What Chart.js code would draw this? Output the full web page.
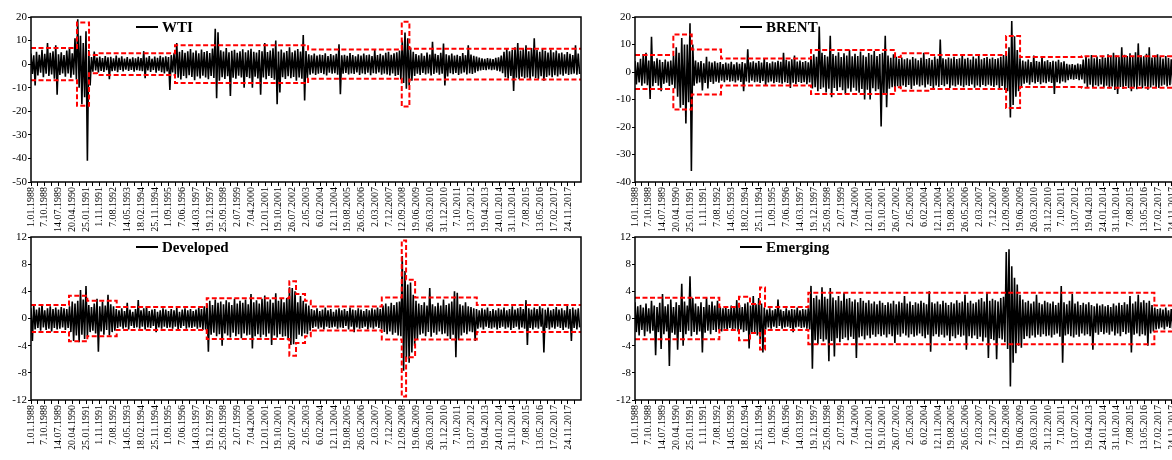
<!DOCTYPE html>
<html><head><meta charset="utf-8">
<script src="https://cdn.jsdelivr.net/npm/chart.js@4.4.1/dist/chart.umd.min.js"></script>
<style>
html,body{margin:0;padding:0;background:#fff;overflow:hidden;width:1172px;height:460px;}
.box{position:absolute;width:590px;height:240px;}
canvas{display:block;}
</style></head><body>
<div class="box" style="left:0;top:0"><canvas id="c1" width="590" height="240"></canvas></div>
<div class="box" style="left:604px;top:0"><canvas id="c2" width="590" height="240"></canvas></div>
<div class="box" style="left:0;top:220px"><canvas id="c3" width="590" height="240"></canvas></div>
<div class="box" style="left:604px;top:220px"><canvas id="c4" width="590" height="240"></canvas></div>
<script>
const dateLabels = ["1.01.1988","7.10.1988","14.07.1989","20.04.1990","25.01.1991","1.11.1991","7.08.1992","14.05.1993","18.02.1994","25.11.1994","1.09.1995","7.06.1996","14.03.1997","19.12.1997","25.09.1998","2.07.1999","7.04.2000","12.01.2001","19.10.2001","26.07.2002","2.05.2003","6.02.2004","12.11.2004","19.08.2005","26.05.2006","2.03.2007","7.12.2007","12.09.2008","19.06.2009","26.03.2010","31.12.2010","7.10.2011","13.07.2012","19.04.2013","24.01.2014","31.10.2014","7.08.2015","13.05.2016","17.02.2017","24.11.2017"];
const lastIndex = 7990;

const wtiTicks = [20,10,0,-10,-20,-30,-40,-50];
const brentTicks = [20,10,0,-10,-20,-30,-40];
const indexTicks = [12,8,4,0,-4,-8,-12];

const wtiHi = [4.5,3.8,5.2,4.0,6.1,4.4,9.0,4.8,5.5,8.0,
4.2,5.0,3.9,5.8,7.0,4.6,11.0,19.0,12.0,9.0,
14.0,6.0,3.0,5.3,2.8,3.2,2.6,3.4,2.9,3.1,
2.5,3.6,2.7,3.3,2.4,3.0,2.2,2.9,2.5,3.1,
2.6,5.5,2.8,3.4,2.3,3.2,2.7,3.5,2.9,3.3,
3.0,3.8,4.6,9.0,5.2,6.0,4.8,5.5,6.4,4.9,
5.8,4.6,6.2,5.1,5.6,4.7,6.6,15.0,13.5,5.9,
5.3,6.8,5.0,5.7,6.1,4.8,5.4,6.3,5.0,5.9,
6.5,5.2,4.9,6.0,5.5,9.0,5.1,5.8,6.7,10.0,
5.4,6.2,4.9,5.6,7.2,5.0,5.8,6.4,5.3,12.4,
5.6,4.2,3.8,4.5,3.6,4.1,3.9,4.6,3.4,4.3,
3.7,4.4,8.4,3.8,4.0,3.5,4.7,3.9,3.3,4.2,
3.6,4.5,3.8,4.1,3.4,6.0,3.9,4.4,3.7,4.8,
5.2,4.0,4.6,5.0,5.8,10.0,13.4,11.0,7.0,5.2,
4.3,3.8,4.6,3.5,4.9,4.1,9.5,4.4,3.9,4.8,
8.7,4.2,3.7,4.5,3.6,4.0,3.4,4.7,3.8,8.0,
4.1,3.5,3.2,2.8,2.5,2.2,2.6,2.4,2.1,2.7,
2.9,3.6,5.2,6.5,5.4,6.0,7.2,9.0,5.8,6.6,
8.0,5.5,6.8,11.0,6.0,5.2,6.5,5.7,4.9,6.2,
5.0,5.8,4.6,4.9,4.2,5.1,4.4,3.9,8.0,4.5];
const wtiLo = [-4.2,-9.0,-4.8,-3.6,-5.5,-4.1,-5.0,-4.4,-6.2,-13.0,
-4.6,-3.9,-5.3,-4.0,-5.8,-4.5,-6.5,-10.0,-17.0,-14.0,
-41.0,-9.0,-3.2,-2.7,-3.5,-2.9,-3.3,-2.6,-6.4,-3.0,
-2.8,-3.4,-2.5,-3.1,-2.3,-2.9,-2.4,-3.2,-2.6,-2.8,
-3.0,-6.0,-2.7,-3.3,-2.5,-3.6,-2.8,-3.4,-3.9,-3.1,
-11.0,-3.5,-4.4,-5.8,-6.5,-5.0,-6.0,-4.7,-5.4,-6.8,
-5.2,-6.1,-4.9,-5.7,-6.4,-5.0,-5.9,-14.5,-7.0,-5.5,
-6.3,-5.1,-13.5,-5.8,-6.2,-4.9,-5.6,-10.0,-5.4,-6.0,
-10.0,-5.3,-6.1,-13.0,-5.7,-6.4,-5.0,-5.9,-6.6,-17.0,
-12.0,-5.5,-6.3,-5.1,-6.0,-5.4,-7.0,-5.7,-6.2,-15.4,
-6.0,-4.5,-3.9,-4.6,-4.0,-3.7,-4.3,-4.8,-3.6,-4.1,
-3.8,-4.5,-12.8,-4.0,-3.7,-4.4,-3.9,-4.2,-3.5,-4.6,
-3.9,-4.3,-3.6,-4.7,-3.8,-4.1,-3.5,-4.5,-4.0,-4.4,
-4.8,-3.9,-5.0,-4.6,-6.5,-8.0,-10.4,-9.0,-7.0,-5.0,
-4.0,-4.6,-3.7,-4.4,-3.9,-4.8,-4.2,-3.6,-4.5,-4.1,
-9.0,-5.2,-3.8,-4.3,-3.7,-4.6,-4.0,-3.5,-4.4,-3.9,
-4.2,-3.6,-3.0,-2.7,-2.4,-2.6,-2.2,-2.5,-2.3,-2.8,
-3.1,-3.8,-5.5,-6.2,-5.0,-11.4,-5.8,-6.4,-5.3,-6.0,
-5.6,-6.5,-5.2,-5.9,-6.3,-5.1,-7.0,-5.4,-4.8,-5.5,
-4.7,-5.2,-4.4,-4.9,-4.1,-4.6,-4.3,-4.0,-4.5,-4.2];
const wtiBandStart = [0,668,843,959,2092,4025,5386,5497];
const wtiBandLevel = [6.8,17.7,3.9,4.6,8.0,6.2,18.0,6.5];

const brentHi = [4.0,3.5,4.8,6.5,7.0,4.2,12.8,3.9,5.0,4.4,
3.6,4.5,3.8,4.2,6.0,9.0,7.0,12.4,10.0,10.0,
17.7,10.0,4.2,3.5,4.0,3.2,5.5,3.8,3.4,3.9,
3.3,3.6,2.9,3.4,3.1,3.7,2.8,3.5,3.0,3.6,
3.2,8.3,3.5,3.9,3.3,4.0,3.4,5.0,3.6,3.2,
3.8,3.5,4.1,3.7,7.0,4.4,3.9,4.6,6.0,3.8,
4.2,3.6,4.0,3.5,5.8,6.4,5.5,16.5,7.0,6.2,
5.6,13.2,6.5,5.9,7.2,5.4,6.8,6.0,8.0,5.7,
6.6,5.8,7.4,6.1,5.5,6.9,6.3,7.6,5.8,6.5,
7.0,13.2,6.0,5.2,6.4,5.5,4.8,5.3,4.6,5.0,
4.5,5.4,4.9,4.3,5.2,7.0,4.7,5.1,4.4,5.6,
4.8,11.8,5.0,4.6,5.3,4.9,5.5,4.7,5.0,6.5,
4.8,5.2,4.5,5.6,4.9,6.0,4.6,5.1,5.4,4.8,
5.3,4.7,5.0,5.5,6.2,7.0,9.0,18.5,13.0,8.0,
5.0,4.2,3.8,4.5,3.6,6.0,4.0,3.7,5.5,3.9,
4.3,3.6,4.1,3.8,4.4,3.5,3.9,3.0,2.7,2.9,
2.6,3.1,2.8,4.5,5.8,4.9,6.2,5.0,5.6,4.7,
5.9,5.2,6.4,5.5,7.0,6.0,5.4,9.0,6.3,5.8,
6.8,5.6,7.2,10.4,6.1,5.7,6.6,9.0,5.3,6.0,
6.4,5.5,4.9,5.8,5.1,4.6,5.4,4.9,5.6,5.0];
const brentLo = [-4.5,-3.8,-5.0,-4.2,-4.8,-9.8,-5.2,-4.0,-5.0,-7.0,
-4.3,-3.9,-5.1,-4.6,-6.0,-9.0,-13.0,-12.0,-18.7,-11.0,
-36.0,-5.0,-4.2,-3.8,-6.7,-4.0,-6.0,-3.6,-4.3,-3.5,
-3.9,-3.2,-3.7,-3.0,-3.5,-3.3,-3.8,-3.1,-3.6,-7.0,
-3.4,-3.9,-3.2,-3.7,-3.5,-4.0,-3.3,-5.0,-3.8,-3.4,
-4.1,-3.6,-3.9,-4.3,-3.7,-4.0,-5.8,-3.9,-4.4,-3.6,
-4.0,-3.7,-4.4,-3.8,-6.0,-5.5,-7.0,-6.2,-5.6,-7.4,
-6.1,-9.2,-5.8,-6.9,-5.5,-6.6,-8.0,-6.0,-7.2,-5.7,
-6.8,-7.5,-6.2,-10.0,-6.4,-10.0,-5.9,-7.0,-6.3,-19.8,
-7.6,-12.8,-6.1,-5.5,-6.6,-5.2,-5.8,-4.9,-5.4,-4.7,
-6.2,-5.0,-4.6,-5.3,-4.8,-5.6,-4.5,-5.1,-6.0,-4.9,
-5.4,-4.7,-5.2,-4.4,-5.8,-4.9,-5.3,-4.6,-5.0,-5.5,
-4.8,-5.1,-4.5,-5.7,-4.9,-5.5,-4.7,-5.2,-4.6,-5.0,
-5.4,-4.8,-6.0,-5.1,-6.5,-7.0,-16.5,-12.0,-9.0,-7.0,
-5.2,-4.3,-3.9,-4.6,-3.7,-4.2,-3.6,-4.4,-3.8,-4.1,
-3.5,-4.0,-8.0,-3.7,-4.2,-3.4,-3.8,-3.0,-2.6,-2.8,
-2.5,-3.0,-2.7,-4.2,-5.5,-4.6,-5.8,-4.8,-5.2,-4.5,
-5.6,-5.0,-6.0,-5.3,-6.5,-8.0,-5.4,-6.2,-5.1,-5.8,
-7.0,-5.5,-6.3,-5.0,-5.9,-5.2,-6.4,-5.6,-4.9,-5.5,
-5.8,-5.0,-4.6,-5.3,-4.8,-4.4,-5.1,-4.6,-5.0,-4.7];
const brentBandStart = [0,557,824,1250,2557,3778,3861,4286,5391,5594,6491];
const brentBandLevel = [6.2,13.65,8.15,4.95,8.0,5.5,6.8,6.2,13.05,5.45,5.75];

const devHi = [1.5,2.0,1.3,1.6,2.1,1.2,1.5,1.8,1.4,1.6,
1.3,1.7,1.5,1.4,1.8,2.5,2.2,2.6,4.2,2.8,
4.8,2.0,1.7,2.2,2.9,1.8,2.5,1.9,3.5,2.1,
1.8,1.4,1.2,1.5,1.1,2.3,1.3,1.0,1.4,2.7,
1.2,1.5,1.8,1.1,1.3,1.4,1.0,1.2,1.5,1.3,
1.1,1.4,1.2,1.6,1.0,1.3,1.5,1.2,1.4,1.1,
1.3,1.6,1.4,1.8,2.2,2.6,2.0,2.8,2.3,2.5,
2.1,2.7,2.4,2.0,2.9,2.2,2.6,2.3,2.8,2.1,
3.6,2.4,2.7,2.2,2.9,3.4,2.5,2.8,2.3,3.7,
2.6,2.9,2.4,3.0,4.6,4.5,4.0,2.4,3.3,2.6,
2.2,1.9,1.4,1.2,1.5,1.1,1.3,1.6,1.2,1.4,
1.0,1.3,1.5,1.2,1.4,1.1,1.6,1.3,1.2,1.5,
1.3,1.1,1.4,1.2,1.5,1.3,1.6,1.4,1.9,2.2,
1.8,2.3,2.0,2.4,2.5,9.2,7.0,5.0,5.3,3.5,
2.6,2.2,2.0,2.4,1.9,4.5,2.1,1.8,2.3,1.9,
2.8,2.0,2.2,2.5,4.0,3.8,2.1,1.9,2.4,1.8,
1.7,1.5,1.4,1.2,1.5,1.3,1.6,1.1,1.4,1.2,
1.5,1.3,1.6,1.2,1.4,1.8,1.3,1.5,1.7,1.4,
2.7,1.5,1.3,1.6,1.4,1.8,1.5,1.3,1.6,1.2,
1.4,1.7,1.3,1.5,1.2,1.9,1.4,1.6,1.3,1.5];
const devLo = [-3.3,-1.6,-1.4,-1.8,-1.3,-1.7,-1.5,-1.9,-1.4,-1.6,
-1.5,-1.3,-1.7,-1.4,-2.0,-3.3,-2.5,-3.5,-2.4,-3.0,
-2.6,-2.0,-1.8,-2.2,-4.9,-1.9,-2.4,-1.7,-2.5,-2.0,
-1.8,-1.4,-1.2,-1.5,-1.3,-1.6,-1.1,-1.4,-1.3,-1.5,
-1.2,-1.6,-1.3,-1.4,-1.1,-2.0,-1.3,-1.5,-1.2,-1.4,
-1.3,-1.5,-1.2,-1.6,-1.4,-1.1,-1.5,-1.3,-1.4,-1.2,
-1.5,-1.3,-1.7,-1.6,-4.9,-2.4,-2.1,-2.6,-2.3,-4.0,
-2.2,-2.5,-2.8,-2.1,-2.6,-2.3,-2.9,-2.2,-2.5,-2.4,
-4.4,-2.6,-2.3,-2.8,-2.4,-2.7,-2.2,-3.9,-2.5,-2.8,
-2.3,-2.7,-2.6,-3.2,-3.9,-3.8,-3.0,-2.4,-2.6,-2.2,
-2.3,-1.8,-1.4,-1.2,-1.5,-1.3,-1.6,-1.2,-1.4,-1.3,
-1.2,-1.5,-1.3,-1.4,-1.1,-1.6,-1.2,-2.0,-1.3,-1.5,
-1.4,-1.2,-1.6,-1.3,-1.5,-1.2,-1.4,-1.6,-2.0,-2.3,
-1.9,-2.4,-2.1,-2.5,-2.6,-7.7,-6.0,-6.5,-5.0,-4.0,
-3.0,-2.4,-2.2,-2.6,-2.0,-2.7,-2.1,-2.4,-1.9,-2.3,
-2.2,-2.6,-3.0,-2.4,-5.7,-3.2,-2.5,-2.1,-2.3,-1.9,
-2.0,-3.3,-1.5,-1.3,-1.6,-1.2,-1.4,-1.5,-1.3,-1.6,
-1.4,-1.2,-1.5,-1.3,-1.7,-1.4,-1.2,-1.6,-1.3,-1.5,
-3.9,-1.4,-1.6,-1.3,-1.5,-1.2,-5.0,-1.4,-1.6,-1.3,
-1.5,-1.2,-1.4,-1.7,-1.3,-1.5,-3.3,-1.4,-1.6,-1.3];
const devBandStart = [0,552,818,1245,2553,3753,3850,3981,4064,5096,5386,5449,5580,6476];
const devBandLevel = [2.0,3.35,2.6,1.7,3.0,5.5,3.6,2.6,1.75,3.1,11.5,5.7,3.1,2.0];

const emHi = [2.4,1.8,2.0,1.6,2.2,1.5,2.6,1.9,1.7,2.3,
3.6,1.8,2.1,2.8,1.7,2.4,2.0,5.1,2.5,1.9,
6.2,3.0,2.2,1.8,2.4,1.7,3.0,2.0,2.5,1.9,
2.6,1.7,1.5,1.8,1.4,1.9,1.6,2.7,2.0,1.7,
2.2,2.4,1.9,3.3,2.1,3.0,2.2,1.6,1.3,1.5,
1.2,1.4,2.8,1.3,1.1,1.5,1.2,1.4,1.3,1.6,
1.2,1.4,1.3,1.5,4.8,3.0,3.4,2.8,4.6,3.2,
2.9,4.5,3.1,2.7,3.3,2.6,3.8,2.9,3.0,2.5,
2.8,2.4,3.0,2.6,2.3,2.7,2.2,2.5,2.1,2.6,
2.3,2.0,2.4,2.2,2.6,2.1,2.5,2.3,3.3,2.2,
2.5,2.0,2.4,2.2,2.6,2.3,2.1,4.0,2.4,2.2,
2.5,2.1,2.6,2.3,2.0,2.4,2.2,2.7,2.3,2.5,
3.5,2.3,2.6,2.2,2.4,2.8,3.0,2.5,3.8,2.6,
2.9,2.7,2.5,3.0,3.2,9.8,10.2,7.7,6.0,5.0,
3.5,2.8,2.4,2.6,2.2,2.5,3.5,2.3,2.1,2.6,
2.4,2.2,2.5,2.0,2.3,4.8,2.4,2.1,2.6,3.6,
2.2,2.5,2.0,2.3,2.1,2.4,2.0,1.8,2.2,1.9,
2.1,1.8,2.0,1.7,2.2,1.9,2.3,2.0,2.4,2.1,
3.3,2.2,2.5,3.5,2.4,2.7,2.3,2.6,2.0,1.6,
1.4,1.5,1.3,1.6,1.2,1.4,1.5,1.3,1.4,1.2];
const emLo = [-2.0,-2.5,-1.7,-2.6,-1.9,-2.2,-1.8,-5.4,-2.0,-4.5,
-2.3,-1.9,-7.0,-2.1,-2.4,-4.6,-2.0,-4.0,-2.3,-1.8,
-2.6,-2.0,-2.4,-1.9,-5.0,-2.1,-1.8,-2.3,-1.7,-2.0,
-1.6,-1.9,-1.5,-1.8,-1.4,-1.7,-1.5,-1.9,-1.6,-2.0,
-1.8,-4.4,-2.2,-2.0,-2.5,-3.0,-5.0,-1.6,-1.3,-1.5,
-1.2,-1.4,-1.1,-1.5,-1.3,-1.2,-1.4,-2.0,-1.3,-1.2,
-1.4,-1.3,-1.5,-1.6,-7.4,-3.2,-3.8,-3.0,-3.4,-3.1,
-6.3,-3.3,-5.6,-2.9,-3.5,-3.0,-2.8,-3.2,-2.7,-3.0,
-5.8,-2.8,-2.6,-3.1,-2.5,-2.9,-2.4,-2.7,-2.3,-2.6,
-2.4,-2.8,-2.3,-2.6,-3.6,-2.4,-2.7,-2.2,-2.5,-2.8,
-2.3,-2.7,-2.5,-2.2,-2.6,-2.9,-2.4,-4.9,-2.6,-2.3,
-2.7,-2.4,-2.8,-2.5,-3.3,-2.6,-2.9,-2.4,-2.7,-2.5,
-4.6,-2.6,-2.9,-2.5,-3.0,-2.7,-3.4,-2.8,-5.8,-3.0,
-3.2,-6.0,-2.9,-3.1,-3.5,-4.5,-10.0,-6.5,-5.1,-4.0,
-4.3,-3.0,-2.6,-2.9,-2.5,-2.8,-2.4,-2.7,-2.3,-2.6,
-2.5,-2.8,-2.4,-2.2,-2.7,-6.5,-2.5,-2.3,-2.6,-2.8,
-2.4,-2.7,-2.2,-2.5,-2.3,-2.6,-4.6,-2.1,-2.4,-2.0,
-2.3,-2.1,-2.4,-1.9,-2.5,-2.2,-2.6,-2.0,-2.3,-2.1,
-5.0,-2.4,-2.2,-2.6,-2.3,-2.5,-4.0,-2.2,-1.9,-1.6,
-1.5,-1.3,-1.6,-1.2,-1.4,-1.5,-1.3,-1.4,-1.2,-1.5];
const emBandStart = [0,1225,1511,1671,1816,1889,2518,7545];
const emBandLevel = [3.05,1.7,3.2,2.15,4.55,1.68,3.8,1.9];

const frameLegend = {
  id: 'frameLegend',
  afterDraw(chart, args, opts) {
    const ctx = chart.ctx, a = chart.chartArea;
    ctx.save();
    ctx.strokeStyle = '#000';
    ctx.lineWidth = 1.5;
    ctx.strokeRect(a.left, a.top, a.right - a.left, a.bottom - a.top);
    const y = a.top + 10;
    ctx.lineWidth = 2;
    ctx.beginPath();
    ctx.moveTo(a.left + 105, y);
    ctx.lineTo(a.left + 127, y);
    ctx.stroke();
    ctx.font = 'bold 15px "Liberation Serif"';
    ctx.fillStyle = '#000';
    ctx.textBaseline = 'middle';
    ctx.fillText(chart.data.datasets[2].label, a.left + 131, y + 1);
    ctx.restore();
  }
};

function makeChart(id, name, hi, lo, bandStart, bandLevel, yTicks, yMin, yMax, xHeight) {
  const step = lastIndex / hi.length;
  const series = [];
  for (let k = 0; k < hi.length; k++) {
    series.push({x: k * step, y: hi[k]});
    series.push({x: k * step + step / 2, y: lo[k]});
  }
  const up = bandStart.map((s, i) => ({x: s, y: bandLevel[i]}));
  up.push({x: lastIndex, y: bandLevel[bandLevel.length - 1]});
  const dn = up.map(p => ({x: p.x, y: -p.y}));
  const band = {borderColor: '#ff0000', borderWidth: 2, borderDash: [5, 2.5], pointRadius: 0, stepped: 'before', fill: false, order: 0};
  new Chart(document.getElementById(id), {
    type: 'line',
    data: {datasets: [
      Object.assign({label: 'upper', data: up}, band),
      Object.assign({label: 'lower', data: dn}, band),
      {label: name, data: series, borderColor: '#000', borderWidth: 1.6, pointRadius: 0, tension: 0, borderJoinStyle: 'bevel', fill: false, order: 1}
    ]},
    options: {
      responsive: false, animation: false, events: [],
      layout: {padding: {top: 17, right: 9, left: 0, bottom: 0}},
      plugins: {legend: {display: false}, tooltip: {enabled: false}},
      scales: {
        x: {
          type: 'linear', min: 0, max: lastIndex,
          afterBuildTicks: s => { const t = []; for (let v = 0; v <= lastIndex; v += 100) t.push({value: v}); s.ticks = t; },
          afterFit: s => { s.height = xHeight; s.paddingLeft = 0; s.paddingRight = 0; },
          ticks: {autoSkip: false, minRotation: 90, maxRotation: 90, padding: 1, color: '#000',
                  font: {family: 'Liberation Serif', size: 10},
                  callback: v => (v % 200 === 0 && dateLabels[v / 200]) ? dateLabels[v / 200] : ''},
          grid: {drawOnChartArea: false, drawTicks: true, tickLength: 4, color: '#000', lineWidth: 1},
          border: {display: false}
        },
        y: {
          min: yMin, max: yMax,
          afterBuildTicks: s => { s.ticks = yTicks.map(v => ({value: v})); },
          afterFit: s => { s.width = 31; s.paddingTop = 0; s.paddingBottom = 0; },
          ticks: {padding: 1, color: '#000', font: {family: 'Liberation Serif', size: 11}, callback: v => String(v)},
          grid: {drawOnChartArea: false, drawTicks: true, tickLength: 3, color: '#000'},
          border: {display: false}
        }
      }
    },
    plugins: [frameLegend]
  });
}

makeChart('c1', 'WTI', wtiHi, wtiLo, wtiBandStart, wtiBandLevel, wtiTicks, -50, 20, 58);
makeChart('c2', 'BRENT', brentHi, brentLo, brentBandStart, brentBandLevel, brentTicks, -40, 20, 58);
makeChart('c3', 'Developed', devHi, devLo, devBandStart, devBandLevel, indexTicks, -12, 12, 60);
makeChart('c4', 'Emerging', emHi, emLo, emBandStart, emBandLevel, indexTicks, -12, 12, 60);
</script>
</body></html>
